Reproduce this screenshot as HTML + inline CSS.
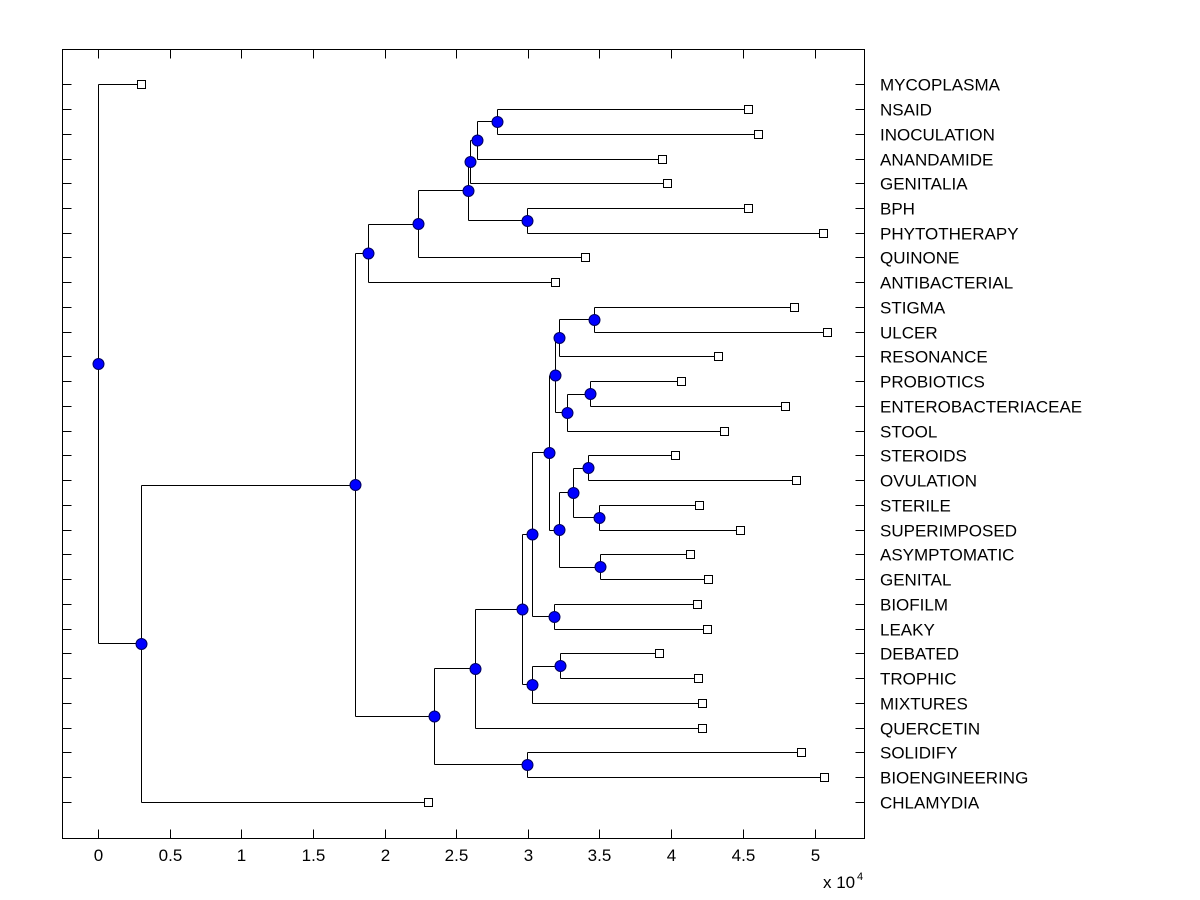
<!DOCTYPE html>
<html>
<head>
<meta charset="utf-8">
<style>
html,body{margin:0;padding:0;background:#fff;}
svg{display:block;}
text{font-family:"Liberation Sans",Arial,sans-serif;fill:#000;}
</style>
</head>
<body>
<svg width="1200" height="900" viewBox="0 0 1200 900" xmlns="http://www.w3.org/2000/svg">
<rect x="0" y="0" width="1200" height="900" fill="#fff"/>
<!-- axes box -->
<rect x="62.5" y="49.5" width="802" height="789" fill="none" stroke="#000" stroke-width="1"/>
<!-- ticks -->
<path stroke="#000" stroke-width="1" fill="none" d="
M98.5 838.5V829.5 M170.5 838.5V829.5 M241.5 838.5V829.5 M313.5 838.5V829.5 M385.5 838.5V829.5 M456.5 838.5V829.5 M528.5 838.5V829.5 M599.5 838.5V829.5 M671.5 838.5V829.5 M743.5 838.5V829.5 M815.5 838.5V829.5
M98.5 49.5V58.5 M170.5 49.5V58.5 M241.5 49.5V58.5 M313.5 49.5V58.5 M385.5 49.5V58.5 M456.5 49.5V58.5 M528.5 49.5V58.5 M599.5 49.5V58.5 M671.5 49.5V58.5 M743.5 49.5V58.5 M815.5 49.5V58.5
M62.5 84.5H71.5 M62.5 109.5H71.5 M62.5 134.5H71.5 M62.5 159.5H71.5 M62.5 183.5H71.5 M62.5 208.5H71.5 M62.5 233.5H71.5 M62.5 257.5H71.5 M62.5 282.5H71.5 M62.5 307.5H71.5 M62.5 332.5H71.5 M62.5 356.5H71.5 M62.5 381.5H71.5 M62.5 406.5H71.5 M62.5 431.5H71.5 M62.5 455.5H71.5 M62.5 480.5H71.5 M62.5 505.5H71.5 M62.5 530.5H71.5 M62.5 554.5H71.5 M62.5 579.5H71.5 M62.5 604.5H71.5 M62.5 629.5H71.5 M62.5 653.5H71.5 M62.5 678.5H71.5 M62.5 703.5H71.5 M62.5 728.5H71.5 M62.5 752.5H71.5 M62.5 777.5H71.5 M62.5 802.5H71.5
M864.5 84.5H855.5 M864.5 109.5H855.5 M864.5 134.5H855.5 M864.5 159.5H855.5 M864.5 183.5H855.5 M864.5 208.5H855.5 M864.5 233.5H855.5 M864.5 257.5H855.5 M864.5 282.5H855.5 M864.5 307.5H855.5 M864.5 332.5H855.5 M864.5 356.5H855.5 M864.5 381.5H855.5 M864.5 406.5H855.5 M864.5 431.5H855.5 M864.5 455.5H855.5 M864.5 480.5H855.5 M864.5 505.5H855.5 M864.5 530.5H855.5 M864.5 554.5H855.5 M864.5 579.5H855.5 M864.5 604.5H855.5 M864.5 629.5H855.5 M864.5 653.5H855.5 M864.5 678.5H855.5 M864.5 703.5H855.5 M864.5 728.5H855.5 M864.5 752.5H855.5 M864.5 777.5H855.5 M864.5 802.5H855.5
"/>
<!-- x tick labels -->
<g font-size="17" text-anchor="middle">
<text x="98.5" y="861">0</text>
<text x="170.5" y="861">0.5</text>
<text x="241.5" y="861">1</text>
<text x="313.5" y="861">1.5</text>
<text x="385.5" y="861">2</text>
<text x="456.5" y="861">2.5</text>
<text x="528.5" y="861">3</text>
<text x="599.5" y="861">3.5</text>
<text x="671.5" y="861">4</text>
<text x="743.5" y="861">4.5</text>
<text x="815.5" y="861">5</text>
</g>
<text x="823" y="888" font-size="17">x 10</text>
<text x="857" y="880" font-size="11">4</text>
<!-- tree branches -->
<path stroke="#000" stroke-width="1" fill="none" d="
M98.5 84.5V643.5 M98.5 84.5H141.5 M98.5 643.5H141.5
M141.5 485.5V802.5 M141.5 485.5H355.5 M141.5 802.5H428.5
M355.5 253.5V716.5 M355.5 253.5H368.5 M355.5 716.5H434.5
M368.5 224.5V282.5 M368.5 224.5H418.5 M368.5 282.5H555.5
M418.5 190.5V257.5 M418.5 190.5H468.5 M418.5 257.5H585.5
M468.5 161.5V220.5 M468.5 161.5H470.5 M468.5 220.5H527.5
M470.5 140.5V183.5 M470.5 140.5H477.5 M470.5 183.5H667.5
M477.5 121.5V159.5 M477.5 121.5H497.5 M477.5 159.5H662.5
M497.5 109.5V134.5 M497.5 109.5H748.5 M497.5 134.5H758.5
M527.5 208.5V233.5 M527.5 208.5H748.5 M527.5 233.5H823.5
M434.5 668.5V764.5 M434.5 668.5H475.5 M434.5 764.5H527.5
M527.5 752.5V777.5 M527.5 752.5H801.5 M527.5 777.5H824.5
M475.5 609.5V728.5 M475.5 609.5H522.5 M475.5 728.5H702.5
M522.5 534.5V684.5 M522.5 534.5H532.5 M522.5 684.5H532.5
M532.5 666.5V703.5 M532.5 666.5H560.5 M532.5 703.5H702.5
M560.5 653.5V678.5 M560.5 653.5H659.5 M560.5 678.5H698.5
M532.5 452.5V616.5 M532.5 452.5H549.5 M532.5 616.5H554.5
M554.5 604.5V629.5 M554.5 604.5H697.5 M554.5 629.5H707.5
M549.5 375.5V530.5 M549.5 375.5H555.5 M549.5 530.5H559.5
M555.5 338.5V412.5 M555.5 338.5H559.5 M555.5 412.5H567.5
M559.5 319.5V356.5 M559.5 319.5H594.5 M559.5 356.5H718.5
M594.5 307.5V332.5 M594.5 307.5H794.5 M594.5 332.5H827.5
M567.5 394.5V431.5 M567.5 394.5H590.5 M567.5 431.5H724.5
M590.5 381.5V406.5 M590.5 381.5H681.5 M590.5 406.5H785.5
M559.5 492.5V567.5 M559.5 492.5H573.5 M559.5 567.5H600.5
M573.5 468.5V517.5 M573.5 468.5H588.5 M573.5 517.5H599.5
M588.5 455.5V480.5 M588.5 455.5H675.5 M588.5 480.5H796.5
M599.5 505.5V530.5 M599.5 505.5H699.5 M599.5 530.5H740.5
M600.5 554.5V579.5 M600.5 554.5H690.5 M600.5 579.5H708.5
"/>
<!-- leaf squares -->
<g fill="#fff" stroke="#000" stroke-width="1">
<rect x="137.5" y="80.5" width="8" height="8"/>
<rect x="744.5" y="105.5" width="8" height="8"/>
<rect x="754.5" y="130.5" width="8" height="8"/>
<rect x="658.5" y="155.5" width="8" height="8"/>
<rect x="663.5" y="179.5" width="8" height="8"/>
<rect x="744.5" y="204.5" width="8" height="8"/>
<rect x="819.5" y="229.5" width="8" height="8"/>
<rect x="581.5" y="253.5" width="8" height="8"/>
<rect x="551.5" y="278.5" width="8" height="8"/>
<rect x="790.5" y="303.5" width="8" height="8"/>
<rect x="823.5" y="328.5" width="8" height="8"/>
<rect x="714.5" y="352.5" width="8" height="8"/>
<rect x="677.5" y="377.5" width="8" height="8"/>
<rect x="781.5" y="402.5" width="8" height="8"/>
<rect x="720.5" y="427.5" width="8" height="8"/>
<rect x="671.5" y="451.5" width="8" height="8"/>
<rect x="792.5" y="476.5" width="8" height="8"/>
<rect x="695.5" y="501.5" width="8" height="8"/>
<rect x="736.5" y="526.5" width="8" height="8"/>
<rect x="686.5" y="550.5" width="8" height="8"/>
<rect x="704.5" y="575.5" width="8" height="8"/>
<rect x="693.5" y="600.5" width="8" height="8"/>
<rect x="703.5" y="625.5" width="8" height="8"/>
<rect x="655.5" y="649.5" width="8" height="8"/>
<rect x="694.5" y="674.5" width="8" height="8"/>
<rect x="698.5" y="699.5" width="8" height="8"/>
<rect x="698.5" y="724.5" width="8" height="8"/>
<rect x="797.5" y="748.5" width="8" height="8"/>
<rect x="820.5" y="773.5" width="8" height="8"/>
<rect x="424.5" y="798.5" width="8" height="8"/>
</g>
<!-- internal node circles -->
<g fill="#0000ff" stroke="#000060" stroke-width="1">
<circle cx="98.5" cy="364" r="5.5"/>
<circle cx="141.5" cy="644" r="5.5"/>
<circle cx="355.5" cy="485" r="5.5"/>
<circle cx="368.5" cy="253.5" r="5.5"/>
<circle cx="418.5" cy="224" r="5.5"/>
<circle cx="468.5" cy="191" r="5.5"/>
<circle cx="470.5" cy="162" r="5.5"/>
<circle cx="477.5" cy="140.5" r="5.5"/>
<circle cx="497.5" cy="122" r="5.5"/>
<circle cx="527.5" cy="221" r="5.5"/>
<circle cx="434.5" cy="716.5" r="5.5"/>
<circle cx="527.5" cy="765" r="5.5"/>
<circle cx="475.5" cy="669" r="5.5"/>
<circle cx="522.5" cy="609.5" r="5.5"/>
<circle cx="532.5" cy="685" r="5.5"/>
<circle cx="560.5" cy="666" r="5.5"/>
<circle cx="532.5" cy="534.5" r="5.5"/>
<circle cx="554.5" cy="617" r="5.5"/>
<circle cx="549.5" cy="453" r="5.5"/>
<circle cx="555.5" cy="375.5" r="5.5"/>
<circle cx="559.5" cy="338" r="5.5"/>
<circle cx="594.5" cy="320" r="5.5"/>
<circle cx="567.5" cy="413" r="5.5"/>
<circle cx="590.5" cy="394" r="5.5"/>
<circle cx="559.5" cy="530" r="5.5"/>
<circle cx="573.5" cy="493" r="5.5"/>
<circle cx="588.5" cy="468" r="5.5"/>
<circle cx="599.5" cy="518" r="5.5"/>
<circle cx="600.5" cy="567" r="5.5"/>
</g>
<!-- leaf labels -->
<g font-size="17">
<text x="880" y="90.5">MYCOPLASMA</text>
<text x="880" y="115.5">NSAID</text>
<text x="880" y="140.5">INOCULATION</text>
<text x="880" y="165.5">ANANDAMIDE</text>
<text x="880" y="189.5">GENITALIA</text>
<text x="880" y="214.5">BPH</text>
<text x="880" y="239.5">PHYTOTHERAPY</text>
<text x="880" y="263.5">QUINONE</text>
<text x="880" y="288.5">ANTIBACTERIAL</text>
<text x="880" y="313.5">STIGMA</text>
<text x="880" y="338.5">ULCER</text>
<text x="880" y="362.5">RESONANCE</text>
<text x="880" y="387.5">PROBIOTICS</text>
<text x="880" y="412.5">ENTEROBACTERIACEAE</text>
<text x="880" y="437.5">STOOL</text>
<text x="880" y="461.5">STEROIDS</text>
<text x="880" y="486.5">OVULATION</text>
<text x="880" y="511.5">STERILE</text>
<text x="880" y="536.5">SUPERIMPOSED</text>
<text x="880" y="560.5">ASYMPTOMATIC</text>
<text x="880" y="585.5">GENITAL</text>
<text x="880" y="610.5">BIOFILM</text>
<text x="880" y="635.5">LEAKY</text>
<text x="880" y="659.5">DEBATED</text>
<text x="880" y="684.5">TROPHIC</text>
<text x="880" y="709.5">MIXTURES</text>
<text x="880" y="734.5">QUERCETIN</text>
<text x="880" y="758.5">SOLIDIFY</text>
<text x="880" y="783.5">BIOENGINEERING</text>
<text x="880" y="808.5">CHLAMYDIA</text>
</g>
</svg>
</body>
</html>
